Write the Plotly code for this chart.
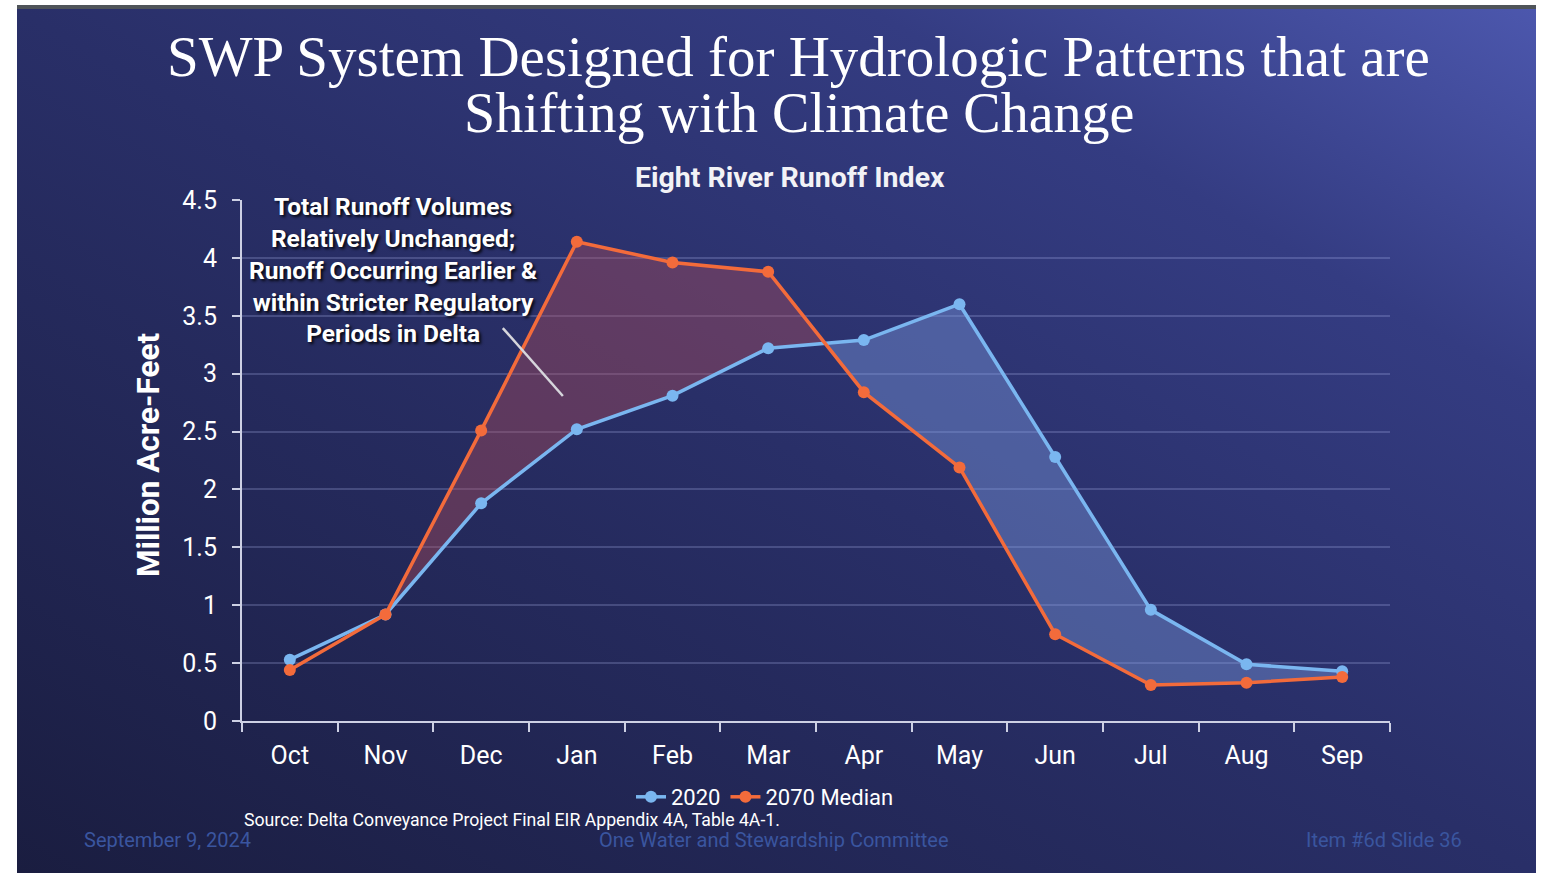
import base64
import plotly.graph_objects as go

# ---------------- data ----------------
months = ["Oct", "Nov", "Dec", "Jan", "Feb", "Mar", "Apr", "May", "Jun", "Jul", "Aug", "Sep"]
runoff_2020 = [0.53, 0.92, 1.88, 2.52, 2.81, 3.22, 3.29, 3.60, 2.28, 0.96, 0.49, 0.43]
runoff_2070 = [0.44, 0.92, 2.51, 4.14, 3.96, 3.88, 2.84, 2.19, 0.75, 0.31, 0.33, 0.38]
y_tick_values = [0, 0.5, 1, 1.5, 2, 2.5, 3, 3.5, 4, 4.5]
series_names = ["2020", "2070 Median"]

W, H = 1545, 873
def px(x):
    return x / W
def py(y):
    return 1 - y / H

BLUE = "#7ab6f0"
ORANGE = "#f36b3b"
AXIS = "#cdd0e4"
FOOT = "#3a559f"

xs = list(range(len(months)))

# ---- fill regions between the two curves (split at crossings) ----
def interp(vals, x):
    i = min(int(x), len(vals) - 2)
    t = x - i
    return vals[i] + (vals[i + 1] - vals[i]) * t

def fill_regions(a, b, start):
    bps = []
    for i in range(start, len(a) - 1):
        bps.append(float(i))
        d0 = a[i] - b[i]
        d1 = a[i + 1] - b[i + 1]
        if d0 * d1 < 0:
            bps.append(i + d0 / (d0 - d1))
    bps.append(float(len(a) - 1))
    groups = []
    cur = [bps[0]]
    cur_sign = None
    for k in range(len(bps) - 1):
        m = (bps[k] + bps[k + 1]) / 2
        s = 1 if interp(a, m) - interp(b, m) >= 0 else -1
        if cur_sign is None or s == cur_sign:
            cur.append(bps[k + 1])
            cur_sign = s
        else:
            groups.append((cur_sign, cur))
            cur = [bps[k], bps[k + 1]]
            cur_sign = s
    groups.append((cur_sign, cur))
    return groups

fig = go.Figure()

for sign, pts in fill_regions(runoff_2070, runoff_2020, 1):
    px_ = pts + pts[::-1]
    py_ = [interp(runoff_2070, p) for p in pts] + [interp(runoff_2020, p) for p in pts[::-1]]
    color = "rgba(185,80,90,0.38)" if sign > 0 else "rgba(125,155,225,0.42)"
    fig.add_trace(go.Scatter(x=px_, y=py_, fill="toself", fillcolor=color, mode="lines",
                             line=dict(width=0), showlegend=False, hoverinfo="skip"))

fig.add_trace(go.Scatter(x=xs, y=runoff_2020, name=series_names[0], mode="lines+markers",
                         line=dict(color=BLUE, width=3.5), marker=dict(color=BLUE, size=12)))
fig.add_trace(go.Scatter(x=xs, y=runoff_2070, name=series_names[1], mode="lines+markers",
                         line=dict(color=ORANGE, width=3.5), marker=dict(color=ORANGE, size=12)))

# ---- background gradient (slide) ----
bw, bh = 1519, 864
svg = f'''<svg xmlns="http://www.w3.org/2000/svg" width="{bw}" height="{bh}" viewBox="0 0 {bw} {bh}" preserveAspectRatio="none">
<defs><linearGradient id="g" x1="0" y1="1" x2="1" y2="0">
<stop offset="0" stop-color="#1a1d40"/>
<stop offset="0.5" stop-color="#292f68"/>
<stop offset="0.78" stop-color="#343c82"/>
<stop offset="1" stop-color="#4c57ad"/>
</linearGradient></defs><rect width="{bw}" height="{bh}" fill="url(#g)"/></svg>'''
src = "data:image/svg+xml;base64," + base64.b64encode(svg.encode()).decode()

fig.update_layout(
    width=W, height=H,
    margin=dict(l=0, r=0, t=0, b=0, pad=0, autoexpand=False),
    paper_bgcolor="white",
    plot_bgcolor="rgba(0,0,0,0)",
    font=dict(family="Roboto", color="white"),
    images=[dict(source=src, xref="paper", yref="paper", x=px(17), y=py(9),
                 sizex=bw / W, sizey=bh / H, xanchor="left", yanchor="top",
                 sizing="stretch", layer="below")],
    shapes=[
        dict(type="rect", xref="paper", yref="paper", x0=px(17), x1=px(1536), y0=py(9), y1=py(5),
             fillcolor="#4f5459", line=dict(width=0), layer="below"),
        dict(type="line", xref="x", yref="y", x0=2.226, y0=3.394, x1=2.854, y1=2.807,
             line=dict(color="#d6d6dc", width=2.5)),
    ],
    xaxis=dict(
        domain=[px(242), px(1390)], range=[-0.5, 11.5],
        tickmode="array", tickvals=xs, ticktext=months, ticks="",
        ticklabelstandoff=11,
        tickfont=dict(size=25, color="white"),
        showgrid=False, zeroline=False, automargin=False,
        showline=True, linecolor=AXIS, linewidth=2,
        minor=dict(tickmode="array", tickvals=[i - 0.5 for i in range(13)], ticks="outside",
                   ticklen=9, tickwidth=2, tickcolor=AXIS, showgrid=False),
    ),
    yaxis=dict(
        domain=[py(721), py(200)], range=[0, 4.5],
        tickmode="array", tickvals=y_tick_values,
        ticks="outside", ticklen=8, tickwidth=2, tickcolor=AXIS,
        ticklabelstandoff=10,
        tickfont=dict(size=25, color="white"),
        showgrid=True, gridcolor="rgba(190,200,255,0.22)", gridwidth=1.5,
        zeroline=False, showline=True, linecolor=AXIS, linewidth=2, automargin=False,
    ),
    legend=dict(orientation="h", x=px(765), y=py(797), xanchor="center", yanchor="middle",
                font=dict(size=22, color="white"), bgcolor="rgba(0,0,0,0)",
                itemwidth=30, tracegroupgap=0),
    showlegend=True,
)

annotations = [
    dict(text="SWP System Designed for Hydrologic Patterns that are", x=px(798), y=py(57),
         font=dict(family="Liberation Serif", size=57, color="white")),
    dict(text="Shifting with Climate Change", x=px(799), y=py(113),
         font=dict(family="Liberation Serif", size=56, color="white")),
    dict(text="<b>Eight River Runoff Index</b>", x=px(790), y=py(178),
         font=dict(size=28.5, color="#f2f2f6")),
    dict(text="<b>Million Acre-Feet</b>", x=px(148), y=py(455), textangle=-90,
         font=dict(size=31.5, color="white")),
    dict(text="<b>Total Runoff Volumes<br>Relatively Unchanged;<br>Runoff Occurring Earlier &<br>"
              "within Stricter Regulatory<br>Periods in Delta</b>",
         x=px(393), y=py(270), align="center",
         font=dict(size=24.5, color="white", shadow="2px 2px 3px rgba(0,0,0,0.85)")),
    dict(text="Source: Delta Conveyance Project Final EIR Appendix 4A, Table 4A-1.",
         x=px(242), y=py(820), xanchor="left", font=dict(size=17.7, color="white")),
    dict(text="September 9, 2024", x=px(82), y=py(840), xanchor="left",
         font=dict(size=20, color=FOOT)),
    dict(text="One Water and Stewardship Committee", x=px(774), y=py(840),
         font=dict(size=20, color=FOOT)),
    dict(text="Item #6d Slide 36", x=px(1384), y=py(840),
         font=dict(size=20, color=FOOT)),
]
for a in annotations:
    a.setdefault("xanchor", "center")
    a.update(xref="paper", yref="paper", yanchor="middle", showarrow=False)
fig.update_layout(annotations=annotations)

fig.write_html("out.html", config={"displayModeBar": False},
               post_script="document.body.style.margin='0';document.body.style.overflow='hidden';")
